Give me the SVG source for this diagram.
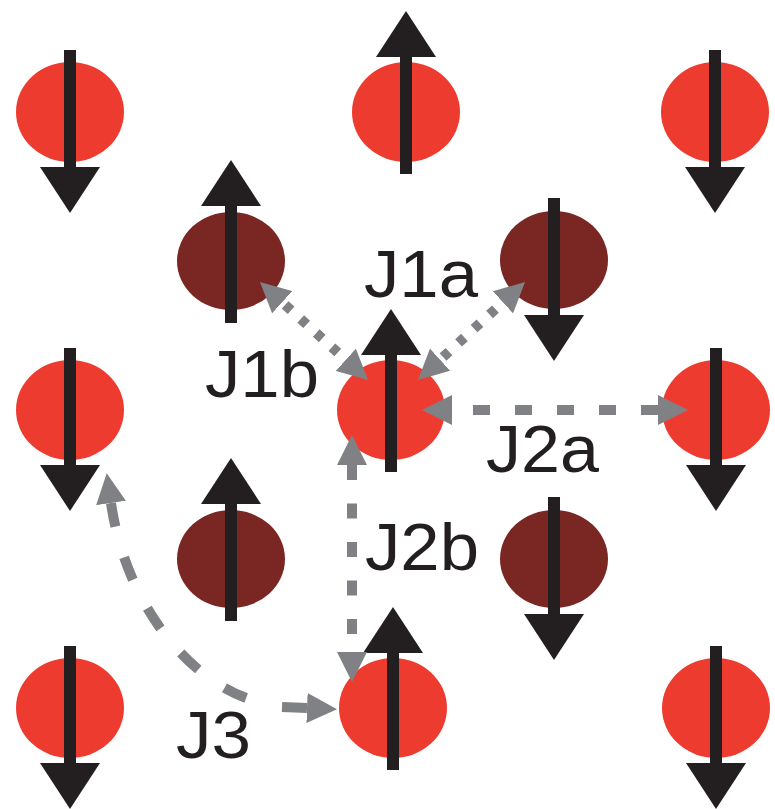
<svg xmlns="http://www.w3.org/2000/svg" xmlns:xlink="http://www.w3.org/1999/xlink" width="775" height="809" viewBox="0 0 775 809">
<style>
.red{fill:#EE3B30}
.dark{fill:#7A2724}
.spin{fill:#231F20}
.conn{fill:none;stroke:#808184;stroke-width:10;stroke-linecap:butt}
.lbl{font-family:"Liberation Sans",Arial,Helvetica,sans-serif;font-size:66px;fill:#231F20}
</style>
<defs>
<g id="up">
<rect x="-6" y="-56" width="12" height="118"/>
<path d="M-30,-55 L30,-55 L0,-101 Z"/>
</g>
<marker id="ah" viewBox="0 0 30 30" markerWidth="30" markerHeight="30" markerUnits="userSpaceOnUse" refX="0" refY="15" orient="auto-start-reverse">
<path d="M0,0 L30,15 L0,30 Z" fill="#808184"/>
</marker>
</defs>
<rect width="775" height="809" fill="#FFFFFF"/>

<g id="n-r11"><ellipse class="red" cx="70" cy="112" rx="54" ry="50"/><use class="spin" xlink:href="#up" transform="translate(70,112) scale(1,-1)"/></g>
<g id="n-r12"><ellipse class="red" cx="406" cy="112" rx="54" ry="50"/><use class="spin" xlink:href="#up" transform="translate(406,112)"/></g>
<g id="n-r13"><ellipse class="red" cx="715" cy="112" rx="54" ry="50"/><use class="spin" xlink:href="#up" transform="translate(715,112) scale(1,-1)"/></g>
<g id="n-d21"><ellipse class="dark" cx="231" cy="261" rx="54" ry="49"/><use class="spin" xlink:href="#up" transform="translate(231,261)"/></g>
<g id="n-d22"><ellipse class="dark" cx="554" cy="260" rx="54" ry="49"/><use class="spin" xlink:href="#up" transform="translate(554,260) scale(1,-1)"/></g>
<g id="n-r31"><ellipse class="red" cx="70" cy="410" rx="54" ry="50"/><use class="spin" xlink:href="#up" transform="translate(70,410) scale(1,-1)"/></g>
<g id="n-r32"><ellipse class="red" cx="391" cy="410" rx="54" ry="50"/><use class="spin" xlink:href="#up" transform="translate(391,410)"/></g>
<g id="n-r33"><ellipse class="red" cx="716" cy="410" rx="54" ry="50"/><use class="spin" xlink:href="#up" transform="translate(716,410) scale(1,-1)"/></g>
<g id="n-d41"><ellipse class="dark" cx="231" cy="559" rx="54" ry="49"/><use class="spin" xlink:href="#up" transform="translate(231,559)"/></g>
<g id="n-d42"><ellipse class="dark" cx="554" cy="559" rx="54" ry="49"/><use class="spin" xlink:href="#up" transform="translate(554,559) scale(1,-1)"/></g>
<g id="n-r51"><ellipse class="red" cx="70" cy="708" rx="54" ry="50"/><use class="spin" xlink:href="#up" transform="translate(70,708) scale(1,-1)"/></g>
<g id="n-r52"><ellipse class="red" cx="393" cy="708" rx="54" ry="50"/><use class="spin" xlink:href="#up" transform="translate(393,708)"/></g>
<g id="n-r53"><ellipse class="red" cx="716" cy="708" rx="54" ry="50"/><use class="spin" xlink:href="#up" transform="translate(716,708) scale(1,-1)"/></g>

<g id="connectors">
<path id="c-J1b" class="conn" d="M282.2,302.2 L345.8,359.8" stroke-dasharray="8 13" stroke-dashoffset="-4" marker-start="url(#ah)" marker-end="url(#ah)"/>
<path id="c-J1a" class="conn" d="M440.1,359.7 L502.9,302.3" stroke-dasharray="8 13" stroke-dashoffset="-4" marker-start="url(#ah)" marker-end="url(#ah)"/>
<path id="c-J2a" class="conn" d="M658,410 L452,410" stroke-dasharray="17 25" marker-start="url(#ah)" marker-end="url(#ah)"/>
<path id="c-J2b" class="conn" d="M352,465 L352,652" stroke-dasharray="15 23.5" marker-start="url(#ah)" marker-end="url(#ah)"/>
<path id="c-J3" class="conn" d="M111,503 C125,600 185,680 255,701" stroke-dasharray="24 32" marker-start="url(#ah)"/>
<path id="c-J3-end" class="conn" d="M282,707 L307,708" marker-end="url(#ah)"/>
</g>

<g id="labels">
<text class="lbl" x="364" y="297" textLength="114" lengthAdjust="spacingAndGlyphs">J1a</text>
<text class="lbl" x="205" y="397" textLength="114" lengthAdjust="spacingAndGlyphs">J1b</text>
<text class="lbl" x="486" y="472" textLength="113" lengthAdjust="spacingAndGlyphs">J2a</text>
<text class="lbl" x="365" y="570" textLength="114" lengthAdjust="spacingAndGlyphs">J2b</text>
<text class="lbl" x="176" y="758" textLength="75" lengthAdjust="spacingAndGlyphs">J3</text>
</g>
</svg>
